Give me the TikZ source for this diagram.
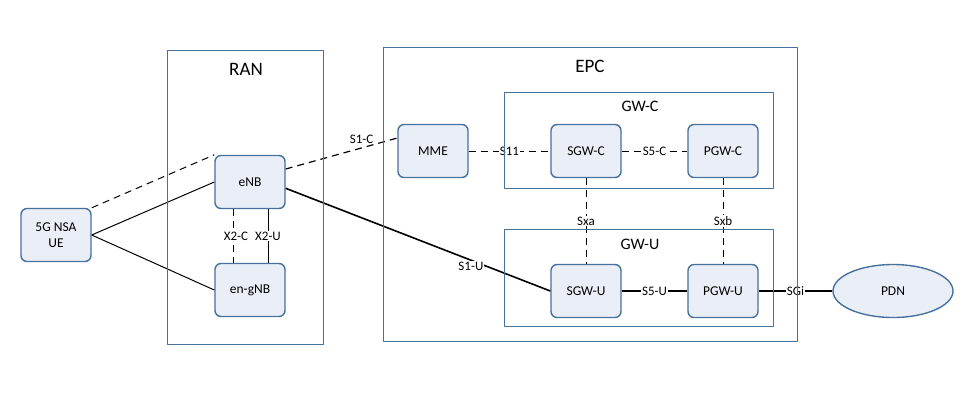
\documentclass[tikz,border=0pt]{standalone}
\usepackage{fontspec}
\setmainfont{Carlito}
\usetikzlibrary{shapes.geometric}
\definecolor{boxfill}{RGB}{234,239,247}
\definecolor{boxline}{RGB}{71,113,158}
\tikzset{
  nf/.style={draw=boxline,fill=boxfill,line width=1.4pt,rounded corners=6pt,minimum width=70pt,minimum height=53pt,align=center,font=\fontsize{13.5}{15.5}\selectfont},
  lbl/.style={fill=white,inner sep=1pt,font=\fontsize{13}{15}\selectfont},
  grp/.style={draw=boxline,line width=0.9pt},
  ttl/.style={font=\fontsize{19}{21}\selectfont},
  dsh/.style={dash pattern=on 7pt off 5pt},
}
\begin{document}
\begin{tikzpicture}[x=1pt,y=-1pt,line join=round,line width=1pt]
	\useasboundingbox (0,0) rectangle (971,405);
	\foreach \n/\x/\y/\t in {ue/56/235/{5G NSA\\UE},enb/250/182/eNB,gnb/250/290/en-gNB,mme/433/151/MME,sgwc/586/151/SGW-C,pgwc/723/151/PGW-C,sgwu/586/291/SGW-U,pgwu/723/291/PGW-U}
		\node[nf] (\n) at (\x,\y) {\t};
	\node[nf,ellipse,rounded corners=0pt,minimum width=120pt] (pdn) at (893,291) {PDN};
	% radio side
	\draw[dsh] (ue.north east)--(enb.north west);
	\draw (ue.east)--(enb.west) (ue.east)--(gnb.west);
	\draw[dsh] ([xshift=-17pt]enb.south)--node[lbl,xshift=3pt]{X2-C}([xshift=-17pt]gnb.north);
	\draw ([xshift=18pt]enb.south)--node[lbl]{X2-U}([xshift=18pt]gnb.north);
	\draw[dsh,line width=1.2pt] (enb.20)--node[lbl,pos=.68,above=3pt,fill=none]{S1-C}(mme.160);
	\draw[line width=1.6pt] (enb.-10)--node[lbl,pos=.7,yshift=-6pt]{S1-U}(sgwu.west);
	% core side
	\draw[dsh] (mme)--node[lbl]{S11}(sgwc);
	\draw[dsh] (sgwc)--node[lbl]{S5-C}(pgwc);
	\draw[dsh] (sgwc)--node[lbl]{Sxa}(sgwu);
	\draw[dsh] (pgwc)--node[lbl]{Sxb}(pgwu);
	\draw[line width=1.2pt] (sgwu)--node[lbl]{S5-U}(pgwu);
	\draw[line width=1.2pt] (pgwu)--node[lbl]{SGi}(pdn);
	% groups
	\draw[grp] (167,50) rectangle (323,344) (383,47) rectangle (797,341);
	\draw[grp] (504,92) rectangle (773,188) (504,229) rectangle (773,326);
	\node[ttl] (ran) at (246,69) {RAN};
	\node[ttl] (epc) at (590,66) {EPC};
	\node[ttl,font=\fontsize{16}{18}\selectfont] (gwc) at (640,106) {GW-C};
	\node[ttl,font=\fontsize{16}{18}\selectfont] (gwu) at (640,244) {GW-U};
\end{tikzpicture}
\end{document}
